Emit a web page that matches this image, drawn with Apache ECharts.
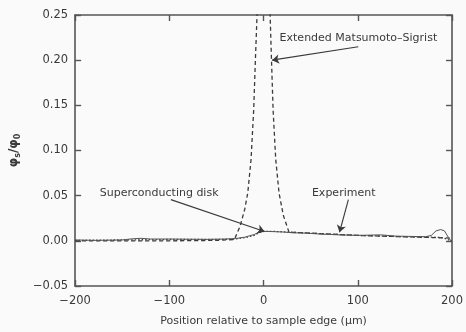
<!DOCTYPE html>
<html>
<head>
<meta charset="utf-8">
<script src="https://cdn.jsdelivr.net/npm/echarts@6/dist/echarts.min.js"></script>
<style>
  html, body { margin: 0; padding: 0; background: #fafafa; }
  #chart { width: 466px; height: 332px; }
</style>
</head>
<body>
<div id="chart"></div>
<script>
// experiment (solid)
const expX = [-200, -180, -160, -150, -140, -130, -120, -100, -80, -60, -40, -30, -20, -10, -5, 0, 10, 20, 30, 45, 60, 80, 100, 115, 125, 140, 160, 172, 178, 183, 188, 192, 196, 200]
const expY = [0.001, 0.0005, 0.0008, 0.001, 0.0022, 0.0028, 0.002, 0.002, 0.0018, 0.0016, 0.002, 0.0025, 0.004, 0.007, 0.0095, 0.0105, 0.0102, 0.0098, 0.009, 0.0085, 0.0075, 0.0066, 0.006, 0.0064, 0.0066, 0.0052, 0.0048, 0.0046, 0.006, 0.011, 0.0125, 0.011, 0.004, -0.0015]

// superconducting disk (dotted)
const diskX = [-200, -150, -100, -50, -30, -20, -10, -5, 0, 10, 30, 60, 100, 150, 180, 190, 195, 200]
const diskY = [0.0005, 0.001, 0.0015, 0.0015, 0.002, 0.0035, 0.006, 0.009, 0.0105, 0.0105, 0.0095, 0.008, 0.006, 0.0045, 0.004, 0.0035, 0.0015, 0]

// extended Matsumoto-Sigrist (dashed)
const msX = [-200, -100, -50, -31, -25, -20, -16.8, -13.3, -10.5, -8.7, -7, -5, 5, 7, 8.4, 10.1, 12.9, 16.4, 21, 27, 40, 100, 200]
const msY = [0, 0, 0.0005, 0.0015, 0.016, 0.035, 0.053, 0.09, 0.145, 0.2, 0.248, 0.35, 0.35, 0.248, 0.2, 0.145, 0.09, 0.053, 0.028, 0.0095, 0.009, 0.006, 0.003]

// annotations: text anchor and arrow (from -> to), data coords
const notes = [
  { text: 'Extended Matsumoto\u2013Sigrist', at: [17, 0.2244], from: [100.5, 0.2148], to: [9, 0.2] },
  { text: 'Superconducting disk', at: [-173.8, 0.0533], from: [-98.4, 0.0456], to: [1, 0.0103] },
  { text: 'Experiment', at: [51.3, 0.0533], from: [90, 0.0456], to: [80.6, 0.0095] },
]

const ink = '#3a3a3a'
const font = 'DejaVu Sans'
const zip = (xs, ys) => xs.map((x, i) => [x, ys[i]])
const minus = s => String(s).replace('-', '\u2212')

const axisBase = {
  type: 'value',
  splitLine: { show: false },
  axisLine: { show: true, onZero: false, lineStyle: { color: '#555', width: 1.6 } },
  axisTick: { show: true, inside: true, length: 6, lineStyle: { color: '#555', width: 1.4 } },
}

const option = {
  backgroundColor: '#fafafa',
  animation: false,
  textStyle: { fontFamily: font },
  grid: { left: 71, right: 13, top: 15, bottom: 45 },
  xAxis: [
    {
      ...axisBase,
      min: -200, max: 200, interval: 100,
      axisLabel: { color: ink, fontSize: 11.5, margin: 9, formatter: v => minus(v) },
      name: 'Position relative to sample edge (\u00b5m)',
      nameLocation: 'middle', nameGap: 30,
      nameTextStyle: { color: ink, fontSize: 11 },
    },
    {
      ...axisBase, position: 'top',
      min: -200, max: 200, interval: 100,
      axisLabel: { show: false },
    },
  ],
  yAxis: [
    {
      ...axisBase,
      min: -0.05, max: 0.25, interval: 0.05,
      axisLabel: {
        color: ink, fontSize: 11.5, margin: 7,
        formatter: v => minus((Math.abs(v) < 1e-9 ? 0 : v).toFixed(2)),
      },
      name: '{p|\u03c6}{b|s}{p|/\u03c6}{b|0}',
      nameLocation: 'middle', nameGap: 52,
      nameTextStyle: {
        color: ink,
        rich: {
          p: { fontSize: 12, fontWeight: 'bold', color: ink, verticalAlign: 'bottom' },
          b: { fontSize: 8, fontWeight: 'bold', color: ink, verticalAlign: 'bottom', padding: [0, 0, -2, 0] },
        },
      },
    },
    {
      ...axisBase, position: 'right',
      min: -0.05, max: 0.25, interval: 0.05,
      axisLabel: { show: false },
    },
  ],
  series: [
    {
      name: 'Extended Matsumoto-Sigrist',
      type: 'line', showSymbol: false, clip: true,
      data: zip(msX, msY),
      lineStyle: { color: ink, width: 1.3, type: [4, 3] },
    },
    {
      name: 'Superconducting disk',
      type: 'line', showSymbol: false, clip: true,
      data: zip(diskX, diskY),
      lineStyle: { color: ink, width: 1.3, type: [1.5, 2] },
    },
    {
      name: 'Experiment',
      type: 'line', showSymbol: false, clip: true,
      data: zip(expX, expY),
      lineStyle: { color: '#555', width: 1 },
      markLine: {
        silent: true,
        symbol: ['none', 'arrow'],
        symbolSize: 7,
        label: { show: false },
        lineStyle: { color: ink, width: 1.1, type: 'solid' },
        data: notes.map(n => [{ coord: n.from }, { coord: n.to }]),
      },
      markPoint: {
        silent: true,
        symbol: 'circle', symbolSize: 0,
        label: {
          show: true, position: 'right', distance: 0,
          color: ink, fontSize: 11, fontFamily: font,
          formatter: p => p.name,
        },
        data: notes.map(n => ({ name: n.text, coord: n.at })),
      },
    },
  ],
}

const chart = echarts.init(document.getElementById('chart'))
chart.setOption(option)
</script>
</body>
</html>
